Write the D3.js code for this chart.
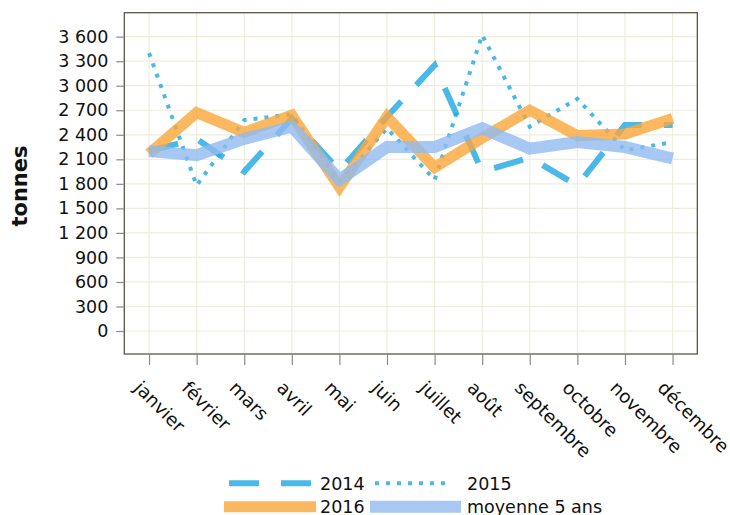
<!DOCTYPE html>
<html>
<head>
<meta charset="utf-8">
<script src="https://cdn.jsdelivr.net/npm/d3@7"></script>
<style>
  body { margin: 0; background: #fff; }
  svg text { font-family: "DejaVu Sans", Verdana, sans-serif; }
</style>
</head>
<body>
<svg width="730" height="515"></svg>
<script>
// data
var months = ["janvier", "février", "mars", "avril", "mai", "juin",
              "juillet", "août", "septembre", "octobre", "novembre", "décembre"];
var v2014 = [2200, 2350, 1950, 2600, 1960, 2620, 3250, 1950, 2120, 1780, 2520, 2520];
var v2015 = [3400, 1780, 2580, 2650, 1820, 2480, 1850, 3620, 2500, 2840, 2210, 2310];
var v2016 = [2170, 2670, 2430, 2640, 1760, 2620, 2000, 2360, 2700, 2390, 2410, 2600];
var vMoy  = [2200, 2150, 2350, 2500, 1850, 2250, 2250, 2480, 2230, 2310, 2250, 2110];
var yTicks = [0, 300, 600, 900, 1200, 1500, 1800, 2100, 2400, 2700, 3000, 3300, 3600];

var series = [
  { name: "2014",          values: v2014, color: "#1ea8e2", width: 6,  dash: "30,22" },
  { name: "2015",          values: v2015, color: "#1ea8e2", width: 4,  dash: "4,7"   },
  { name: "2016",          values: v2016, color: "#faa639", width: 11, dash: null    },
  { name: "moyenne 5 ans", values: vMoy,  color: "#90baf0", width: 12, dash: null    }
];

var svg = d3.select("svg");
var pLeft = 124.3, pRight = 697.3, pTop = 12.7, pBottom = 354;

var x = d3.scalePoint().domain(months).range([pLeft, pRight]).padding(0.52);
var y = d3.scaleLinear().domain([-281, 3893]).range([pBottom, pTop]);

var fmt = function(d) { return d3.format(",")(d).replace(/,/g, " "); };

// grid
svg.append("g").selectAll("line").data(months).enter().append("line")
  .attr("x1", function(d) { return x(d); }).attr("x2", function(d) { return x(d); })
  .attr("y1", pTop).attr("y2", pBottom)
  .style("stroke", "#efeddc").style("stroke-width", 1.2);
svg.append("g").selectAll("line").data(yTicks).enter().append("line")
  .attr("x1", pLeft).attr("x2", pRight)
  .attr("y1", function(d) { return y(d); }).attr("y2", function(d) { return y(d); })
  .style("stroke", "#efeddc").style("stroke-width", 1.2);

// lines
var line = d3.line()
  .x(function(d, i) { return x(months[i]); })
  .y(function(d) { return y(d); });

series.forEach(function(s) {
  svg.append("path")
    .datum(s.values)
    .attr("d", line)
    .style("fill", "none")
    .style("stroke", s.color)
    .style("stroke-opacity", 0.8)
    .style("stroke-width", s.width)
    .style("stroke-linejoin", "miter")
    .style("stroke-dasharray", s.dash);
});

// frame
svg.append("rect")
  .attr("x", pLeft).attr("y", pTop)
  .attr("width", pRight - pLeft).attr("height", pBottom - pTop)
  .style("fill", "none").style("stroke", "#5b5648").style("stroke-width", 1.3);

// y axis
var yAxis = d3.axisLeft(y).tickValues(yTicks).tickFormat(fmt).tickSize(8).tickPadding(8);
var gy = svg.append("g").attr("transform", "translate(" + pLeft + ",0)").call(yAxis);
gy.select(".domain").remove();
gy.selectAll(".tick line").style("stroke", "#8a8a8a").style("stroke-width", 1.2);
gy.selectAll(".tick text").style("font-size", "17.5px").style("fill", "#111")
  .style("font-family", "DejaVu Sans");

// x axis
var xAxis = d3.axisBottom(x).tickSize(11).tickFormat("");
var gx = svg.append("g").attr("transform", "translate(0," + pBottom + ")").call(xAxis);
gx.select(".domain").remove();
gx.selectAll(".tick line").style("stroke", "#8a8a8a").style("stroke-width", 1.2);

svg.append("g").selectAll("text").data(months).enter().append("text")
  .attr("transform", function(d) { return "translate(" + (x(d) - 16) + ",389) rotate(45)"; })
  .style("font-size", "18.3px").style("fill", "#111")
  .text(function(d) { return d; });

// y title
svg.append("text")
  .attr("transform", "translate(27,186) rotate(-90)")
  .attr("text-anchor", "middle")
  .style("font-size", "21px").style("font-weight", "bold").style("fill", "#111")
  .text("tonnes");

// legend
var legend = [
  { s: series[0], x1: 229, x2: 312, tx: 320, ly: 483.3, ty: 490 },
  { s: series[1], x1: 375, x2: 452, tx: 467, ly: 483.3, ty: 490 },
  { s: series[2], x1: 224, x2: 316, tx: 320, ly: 506.7, ty: 512.7 },
  { s: series[3], x1: 370, x2: 461, tx: 467, ly: 506.7, ty: 512.7 }
];
legend.forEach(function(l) {
  svg.append("line")
    .attr("x1", l.x1).attr("x2", l.x2).attr("y1", l.ly).attr("y2", l.ly)
    .style("stroke", l.s.color).style("stroke-opacity", 0.8)
    .style("stroke-width", l.s.width)
    .style("stroke-dasharray", l.s.dash);
  svg.append("text")
    .attr("x", l.tx).attr("y", l.ty)
    .style("font-size", "17.5px").style("fill", "#111")
    .text(l.s.name);
});
</script>
</body>
</html>
